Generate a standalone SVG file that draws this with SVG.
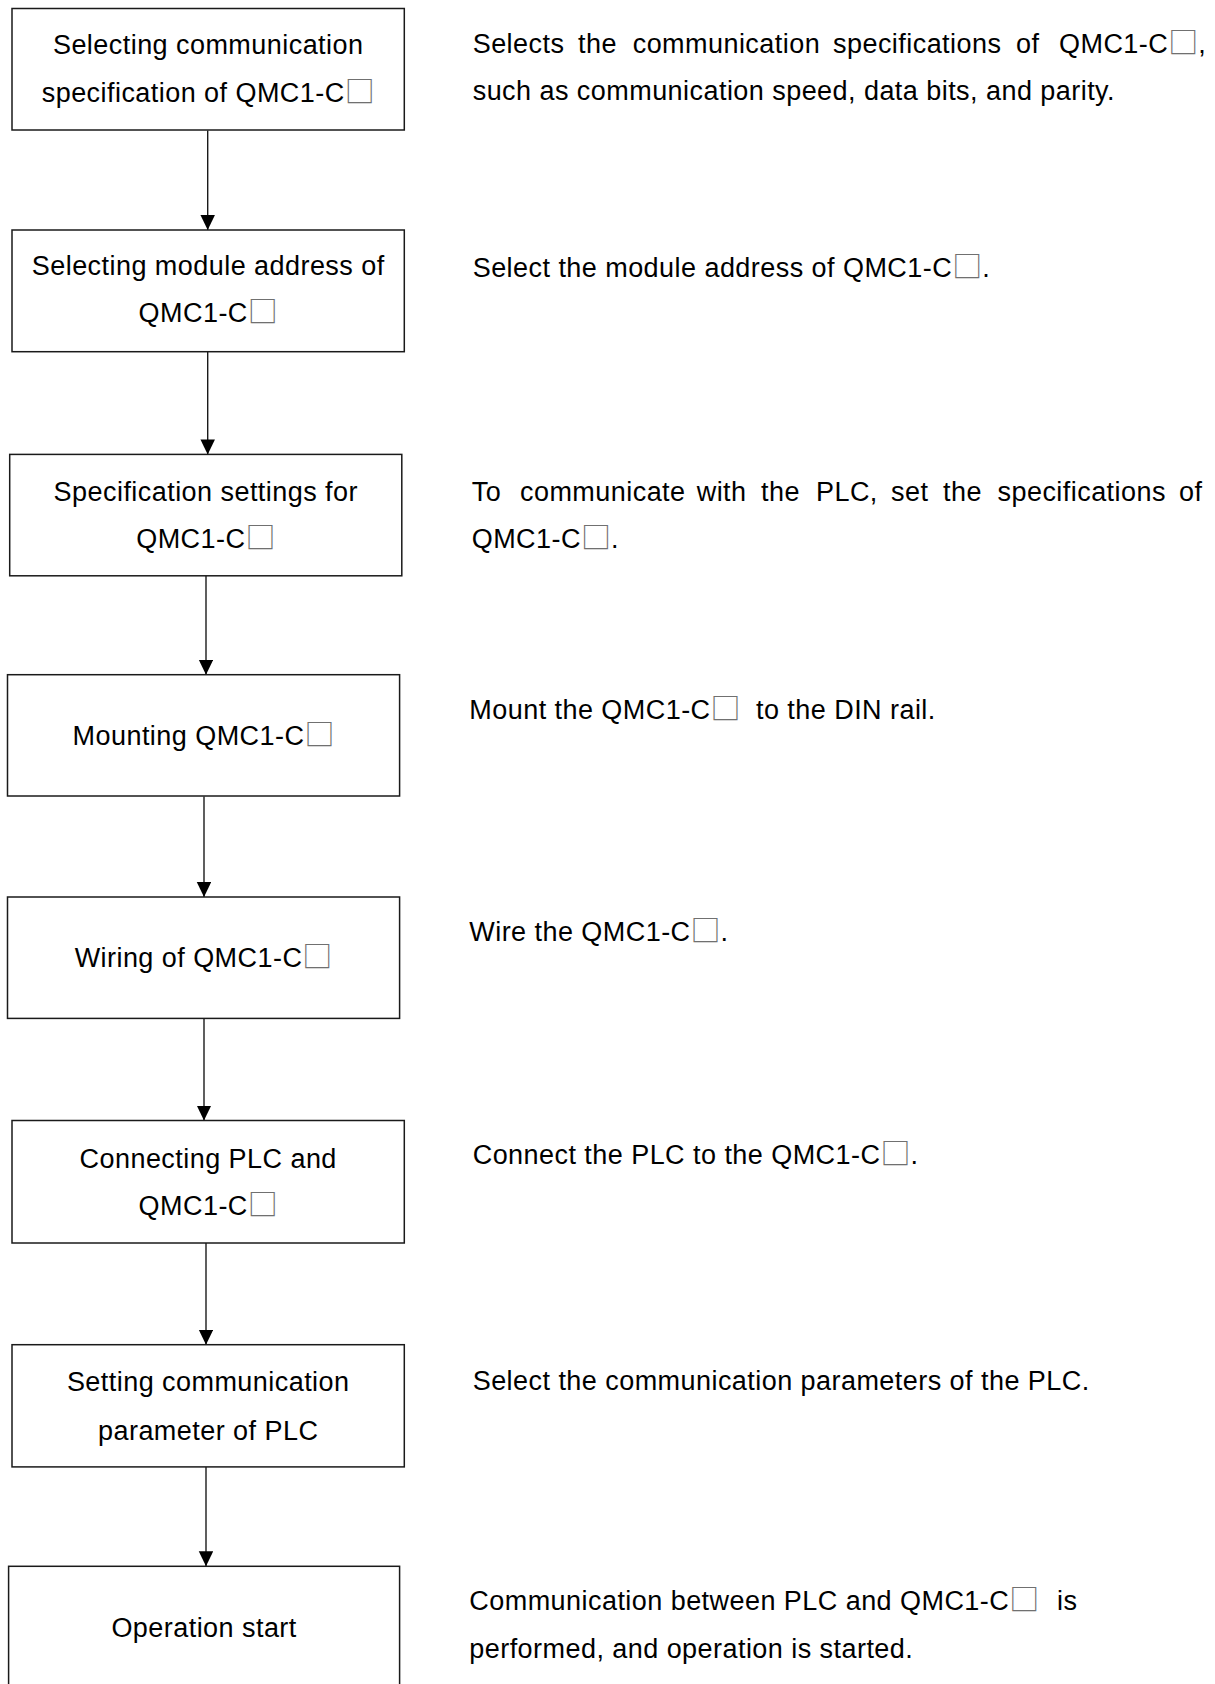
<svg xmlns="http://www.w3.org/2000/svg" width="1215" height="1684" viewBox="0 0 1215 1684">
<style>
.box{fill:#fff;stroke:#1a1a1a;stroke-width:1.5}
.t{font-family:"Liberation Sans",Arial,"Noto Sans CJK SC",sans-serif;font-size:27px;fill:#000;letter-spacing:0.45px}
.c{text-anchor:middle}
.sq{font-family:"Noto Sans CJK SC","Noto Sans CJK JP",sans-serif;font-size:30px;fill:#707070;letter-spacing:0}
.conn{stroke:#1a1a1a;stroke-width:1.4;fill:none}
</style>
<defs>
<marker id="ah" markerUnits="userSpaceOnUse" markerWidth="16" markerHeight="16" refX="15" refY="7.25" orient="auto">
<path d="M0,0 L15,7.25 L0,14.5 z" fill="#000"/>
</marker>
</defs>
<rect width="1215" height="1684" fill="#fff"/>
<g id="connectors">
<line class="conn" x1="207.7" y1="130.5" x2="207.7" y2="230" marker-end="url(#ah)"/>
<line class="conn" x1="207.7" y1="352" x2="207.7" y2="454.4" marker-end="url(#ah)"/>
<line class="conn" x1="206" y1="576" x2="206" y2="674.7" marker-end="url(#ah)"/>
<line class="conn" x1="204" y1="796.5" x2="204" y2="897" marker-end="url(#ah)"/>
<line class="conn" x1="204" y1="1018.5" x2="204" y2="1120.5" marker-end="url(#ah)"/>
<line class="conn" x1="206" y1="1243" x2="206" y2="1344.7" marker-end="url(#ah)"/>
<line class="conn" x1="206" y1="1467" x2="206" y2="1566.3" marker-end="url(#ah)"/>
</g>
<g id="node1">
<rect class="box" x="12" y="8.5" width="392.3" height="121.5"/>
<text class="t c" x="208.2" y="54.3">Selecting communication</text>
<text class="t c" x="208.2" y="101.7">specification of QMC1-C<tspan class="sq">□</tspan></text>
</g>
<g id="node2">
<rect class="box" x="12" y="230" width="392.3" height="121.7"/>
<text class="t c" x="208.2" y="275">Selecting module address of</text>
<text class="t c" x="208.2" y="321.7">QMC1-C<tspan class="sq">□</tspan></text>
</g>
<g id="node3">
<rect class="box" x="9.7" y="454.4" width="392.1" height="121.4"/>
<text class="t c" x="205.8" y="500.5">Specification settings for</text>
<text class="t c" x="205.8" y="548">QMC1-C<tspan class="sq">□</tspan></text>
</g>
<g id="node4">
<rect class="box" x="7.5" y="674.7" width="392.1" height="121.3"/>
<text class="t c" x="203.5" y="745">Mounting QMC1-C<tspan class="sq">□</tspan></text>
</g>
<g id="node5">
<rect class="box" x="7.5" y="897" width="392.1" height="121.4"/>
<text class="t c" x="203.5" y="967.4">Wiring of QMC1-C<tspan class="sq">□</tspan></text>
</g>
<g id="node6">
<rect class="box" x="12" y="1120.5" width="392.3" height="122.5"/>
<text class="t c" x="208.2" y="1168.2">Connecting PLC and</text>
<text class="t c" x="208.2" y="1214.7">QMC1-C<tspan class="sq">□</tspan></text>
</g>
<g id="node7">
<rect class="box" x="12" y="1344.7" width="392.3" height="122.2"/>
<text class="t c" x="208.2" y="1390.5">Setting communication</text>
<text class="t c" x="208.2" y="1439.7">parameter of PLC</text>
</g>
<g id="node8">
<rect class="box" x="8.6" y="1566.3" width="391" height="130"/>
<text class="t c" x="204.1" y="1637.4">Operation start</text>
</g>
<g id="descriptions">
<text class="t" y="52.5"><tspan x="472.7">Selects</tspan><tspan x="578">the</tspan><tspan x="632.7">communication</tspan><tspan x="833">specifications</tspan><tspan x="1016">of</tspan><tspan x="1059">QMC1-C<tspan class="sq">□</tspan>,</tspan></text>
<text class="t" x="472.7" y="100">such as communication speed, data bits, and parity.</text>
<text class="t" x="472.7" y="276.5">Select the module address of QMC1-C<tspan class="sq">□</tspan>.</text>
<text class="t" y="500.7"><tspan x="471.7">To</tspan><tspan x="520">communicate</tspan><tspan x="696.7">with</tspan><tspan x="761">the</tspan><tspan x="816">PLC,</tspan><tspan x="891">set</tspan><tspan x="943">the</tspan><tspan x="997.5">specifications</tspan><tspan x="1179">of</tspan></text>
<text class="t" x="471.7" y="548.3">QMC1-C<tspan class="sq">□</tspan>.</text>
<text class="t" y="719"><tspan x="469.3">Mount the QMC1-C<tspan class="sq">□</tspan></tspan><tspan x="756">to the DIN rail.</tspan></text>
<text class="t" x="469.3" y="940.7">Wire the QMC1-C<tspan class="sq">□</tspan>.</text>
<text class="t" x="472.7" y="1164.3">Connect the PLC to the QMC1-C<tspan class="sq">□</tspan>.</text>
<text class="t" x="472.7" y="1390">Select the communication parameters of the PLC.</text>
<text class="t" y="1610"><tspan x="469.3">Communication between PLC and QMC1-C<tspan class="sq">□</tspan></tspan><tspan x="1057">is</tspan></text>
<text class="t" x="469.3" y="1657.5">performed, and operation is started.</text>
</g>
</svg>
